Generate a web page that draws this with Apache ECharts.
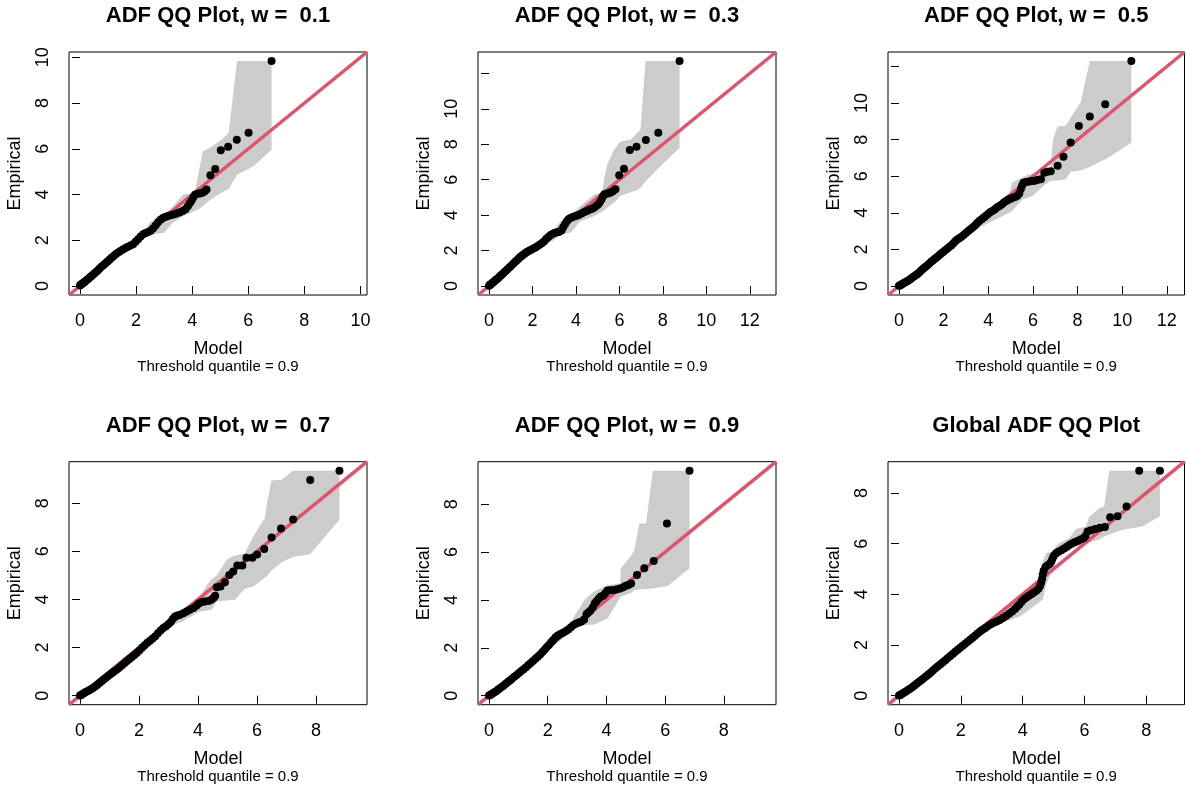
<!DOCTYPE html>
<html>
<head>
<meta charset="utf-8">
<script src="https://cdn.jsdelivr.net/npm/echarts@6/dist/echarts.min.js"></script>
<style>
html, body { margin: 0; padding: 0; background: #ffffff; }
#chart { width: 1186px; height: 792px; }
</style>
</head>
<body>
<div id="chart"></div>
<script>
// ---- Panel titles ----
const titles = [
  'ADF QQ Plot, w =  0.1',
  'ADF QQ Plot, w =  0.3',
  'ADF QQ Plot, w =  0.5',
  'ADF QQ Plot, w =  0.7',
  'ADF QQ Plot, w =  0.9',
  'Global ADF QQ Plot'
];
const subtitle = 'Threshold quantile = 0.9';
const xName = 'Model';
const yName = 'Empirical';

// ---- Tick values ----
const ticks0to10 = [0, 2, 4, 6, 8, 10];
const ticks0to12 = [0, 2, 4, 6, 8, 10, 12];
const ticks0to8 = [0, 2, 4, 6, 8];

// ---- w = 0.1 ----
const model1 = [0.00,0.02,0.05,0.08,0.12,0.16,0.20,0.25,0.30,0.35,0.40,0.46,0.52,0.58,0.64,0.70,0.77,0.84,0.91,0.98,1.05,1.12,1.20,1.28,1.36,1.44,1.53,1.62,1.71,1.80,1.89,1.98,2.07,2.16,2.25,2.34,2.43,2.52,2.61,2.70,2.79,2.88,2.97,3.06,3.16,3.26,3.36,3.46,3.56,3.66,3.76,3.85,3.92,3.98,4.04,4.10,4.18,4.27,4.36,4.44,4.51,4.65,4.82,5.02,5.28,5.59,6.01,6.83];
const empirical1 = [0.02,0.06,0.08,0.10,0.14,0.18,0.22,0.27,0.32,0.38,0.43,0.49,0.56,0.62,0.69,0.77,0.85,0.92,0.99,1.07,1.15,1.24,1.31,1.40,1.47,1.53,1.60,1.66,1.72,1.77,1.83,1.93,2.05,2.16,2.26,2.32,2.36,2.42,2.53,2.66,2.80,2.91,2.98,3.03,3.07,3.10,3.14,3.18,3.23,3.28,3.36,3.50,3.63,3.74,3.88,3.99,4.03,4.05,4.08,4.13,4.22,4.84,5.12,5.94,6.09,6.40,6.70,9.84];
const bandX1 = [0, 1.0, 2.0, 2.3, 2.5, 2.8, 3.0, 3.3, 3.67, 4.0, 4.1, 4.2, 4.38, 4.62, 5.0, 5.3, 5.6, 6.2, 6.83];
const bandHi1 = [0.03, 1.04, 2.06, 2.42, 2.80, 3.00, 3.14, 3.45, 4.00, 4.03, 4.08, 4.80, 5.89, 6.03, 6.35, 6.70, 9.84, 9.84, 9.84];
const bandLo1 = [0.00, 0.96, 1.90, 2.18, 2.26, 2.30, 2.33, 2.75, 3.05, 3.22, 3.30, 3.34, 3.49, 3.75, 4.05, 4.24, 4.87, 5.25, 5.96];

// ---- w = 0.3 ----
const model2 = [0.00,0.03,0.07,0.11,0.16,0.21,0.27,0.33,0.40,0.47,0.54,0.61,0.69,0.77,0.85,0.93,1.01,1.10,1.19,1.28,1.37,1.46,1.55,1.64,1.74,1.84,1.94,2.04,2.14,2.24,2.34,2.44,2.54,2.64,2.74,2.84,2.94,3.04,3.14,3.24,3.34,3.42,3.50,3.58,3.66,3.75,3.85,3.95,4.06,4.17,4.28,4.39,4.50,4.61,4.72,4.83,4.93,5.03,5.11,5.18,5.24,5.31,5.40,5.50,5.60,5.70,5.82,5.99,6.21,6.48,6.79,7.22,7.79,8.77];
const empirical2 = [0.02,0.05,0.09,0.13,0.18,0.23,0.30,0.36,0.43,0.51,0.59,0.67,0.76,0.85,0.94,1.04,1.13,1.24,1.36,1.46,1.56,1.66,1.75,1.84,1.92,1.99,2.05,2.11,2.18,2.26,2.34,2.43,2.53,2.66,2.78,2.88,2.95,3.00,3.03,3.06,3.15,3.33,3.50,3.66,3.77,3.84,3.89,3.93,3.98,4.04,4.10,4.17,4.24,4.30,4.35,4.42,4.52,4.62,4.75,4.90,5.05,5.18,5.21,5.24,5.28,5.35,5.46,6.25,6.62,7.67,7.86,8.24,8.65,12.70];
const bandX2 = [0, 1.0, 2.0, 2.6, 3.0, 3.3, 3.75, 4.2, 4.83, 5.21, 5.29, 5.44, 5.75, 6.05, 6.51, 6.82, 6.97, 7.2, 8.0, 8.77];
const bandHi2 = [0.03, 1.06, 2.10, 2.75, 3.20, 3.66, 3.98, 4.50, 5.16, 5.25, 6.00, 6.85, 7.69, 8.16, 8.26, 8.63, 8.82, 12.70, 12.70, 12.70];
const bandLo2 = [0.00, 0.94, 1.88, 2.35, 2.60, 2.91, 3.00, 3.66, 3.94, 4.20, 4.25, 4.41, 4.69, 5.10, 5.29, 5.40, 5.55, 5.90, 6.90, 7.79];

// ---- w = 0.5 ----
const model3 = [0.00,0.04,0.08,0.13,0.18,0.24,0.30,0.36,0.42,0.49,0.56,0.63,0.70,0.78,0.86,0.94,1.02,1.10,1.18,1.26,1.35,1.44,1.53,1.62,1.71,1.80,1.89,1.98,2.07,2.16,2.25,2.34,2.43,2.52,2.61,2.70,2.80,2.90,3.00,3.10,3.20,3.30,3.40,3.50,3.60,3.70,3.80,3.90,4.00,4.10,4.20,4.30,4.40,4.50,4.60,4.70,4.80,4.90,5.00,5.10,5.20,5.30,5.39,5.46,5.52,5.58,5.68,5.78,5.88,5.98,6.08,6.20,6.36,6.51,6.65,6.80,7.11,7.37,7.69,8.06,8.55,9.24,10.41];
const empirical3 = [0.01,0.03,0.06,0.10,0.14,0.18,0.22,0.26,0.30,0.36,0.43,0.49,0.55,0.61,0.68,0.78,0.88,0.97,1.04,1.12,1.22,1.32,1.41,1.50,1.58,1.68,1.77,1.86,1.95,2.04,2.13,2.22,2.32,2.44,2.54,2.61,2.69,2.79,2.90,3.01,3.10,3.20,3.31,3.44,3.55,3.65,3.74,3.84,3.95,4.04,4.12,4.20,4.30,4.38,4.46,4.56,4.64,4.71,4.77,4.82,4.87,4.93,5.05,5.30,5.50,5.64,5.68,5.70,5.72,5.74,5.76,5.80,5.84,6.19,6.24,6.27,6.57,7.06,7.85,8.74,9.27,9.93,12.30];
const bandX3 = [0, 1.0, 2.0, 3.0, 3.76, 4.35, 4.95, 5.07, 5.54, 5.84, 5.99, 6.5, 6.76, 6.9, 7.1, 7.47, 7.69, 8.06, 8.14, 8.55, 9.4, 10.41];
const bandHi3 = [0.02, 1.02, 2.05, 3.08, 3.90, 4.45, 5.10, 5.66, 5.95, 6.11, 6.13, 6.17, 6.20, 8.00, 8.72, 8.76, 9.20, 9.90, 10.04, 12.30, 12.30, 12.30];
const bandLo3 = [0.00, 0.92, 1.85, 2.75, 3.30, 3.65, 4.01, 4.10, 4.74, 4.85, 4.93, 5.50, 5.72, 5.75, 5.76, 5.84, 6.24, 6.30, 6.32, 6.50, 7.03, 7.85];

// ---- w = 0.7 ----
const model4 = [0.00,0.04,0.09,0.14,0.19,0.25,0.31,0.37,0.44,0.51,0.58,0.65,0.72,0.79,0.87,0.95,1.03,1.11,1.19,1.27,1.35,1.43,1.51,1.59,1.67,1.75,1.83,1.92,2.01,2.10,2.19,2.28,2.37,2.46,2.55,2.64,2.73,2.82,2.91,3.00,3.08,3.15,3.22,3.30,3.39,3.50,3.61,3.72,3.84,3.94,4.03,4.13,4.23,4.35,4.45,4.53,4.58,4.63,4.76,4.91,5.06,5.19,5.33,5.50,5.64,5.84,6.00,6.24,6.49,6.81,7.22,7.80,8.79];
const empirical4 = [0.01,0.03,0.07,0.11,0.15,0.19,0.23,0.27,0.32,0.38,0.44,0.52,0.59,0.66,0.74,0.82,0.89,0.96,1.04,1.11,1.19,1.28,1.36,1.44,1.52,1.60,1.68,1.77,1.88,1.99,2.10,2.20,2.28,2.38,2.47,2.59,2.71,2.81,2.89,2.98,3.07,3.20,3.29,3.33,3.36,3.43,3.50,3.57,3.64,3.74,3.83,3.89,3.91,3.94,3.99,4.07,4.15,4.51,4.54,4.71,5.02,5.16,5.41,5.41,5.73,5.73,5.87,6.10,6.57,6.95,7.32,8.96,9.35];
const bandX4 = [0, 1.0, 2.0, 2.8, 3.16, 3.27, 3.5, 3.61, 4.06, 4.35, 4.46, 4.63, 4.68, 4.97, 5.19, 5.25, 5.59, 5.64, 5.87, 6.26, 6.32, 6.49, 6.83, 7.22, 7.79, 8.79];
const bandHi4 = [0.02, 1.03, 2.05, 2.88, 3.30, 3.43, 3.60, 3.71, 4.12, 4.68, 4.85, 5.00, 5.09, 5.65, 5.79, 5.82, 5.92, 6.05, 6.62, 7.38, 7.90, 8.94, 8.97, 9.35, 9.35, 9.35];
const bandLo4 = [0.00, 0.95, 1.90, 2.62, 2.95, 3.00, 3.09, 3.20, 3.50, 3.55, 3.57, 3.92, 3.93, 3.96, 3.98, 3.99, 4.45, 4.47, 4.54, 4.90, 4.96, 5.20, 5.55, 5.76, 5.88, 7.31];

// ---- w = 0.9 ----
const model5 = [0.00,0.04,0.08,0.13,0.18,0.24,0.30,0.36,0.43,0.50,0.57,0.64,0.71,0.78,0.86,0.94,1.02,1.10,1.18,1.26,1.34,1.42,1.50,1.58,1.66,1.74,1.82,1.90,1.97,2.04,2.11,2.18,2.26,2.34,2.43,2.52,2.61,2.70,2.79,2.88,2.97,3.06,3.15,3.24,3.32,3.38,3.45,3.53,3.60,3.66,3.74,3.81,3.89,3.96,4.04,4.14,4.25,4.36,4.47,4.57,4.66,4.75,4.84,5.04,5.29,5.61,6.06,6.83];
const empirical5 = [0.01,0.03,0.06,0.10,0.14,0.19,0.25,0.30,0.36,0.43,0.50,0.57,0.64,0.71,0.79,0.87,0.95,1.03,1.11,1.19,1.28,1.37,1.45,1.54,1.63,1.72,1.83,1.93,2.03,2.12,2.22,2.32,2.43,2.52,2.58,2.63,2.69,2.77,2.86,2.95,3.02,3.06,3.10,3.18,3.40,3.48,3.55,3.68,3.85,3.95,4.06,4.14,4.18,4.28,4.39,4.41,4.42,4.45,4.48,4.53,4.59,4.63,4.69,5.04,5.32,5.63,7.19,9.40];
const bandX5 = [0, 1.0, 2.0, 2.67, 2.96, 3.13, 3.24, 3.58, 4.04, 4.47, 4.49, 4.86, 4.95, 5.12, 5.35, 5.58, 5.63, 6.09, 6.83];
const bandHi5 = [0.02, 1.04, 2.08, 2.78, 3.44, 3.75, 4.00, 4.35, 4.63, 4.69, 5.32, 5.88, 6.10, 7.19, 7.19, 9.40, 9.40, 9.40, 9.40];
const bandLo5 = [0.00, 0.95, 1.90, 2.60, 2.90, 2.96, 2.96, 2.96, 3.24, 4.10, 4.14, 4.30, 4.42, 4.44, 4.46, 4.48, 4.49, 4.58, 5.32];

// ---- Global ----
const model6 = [0.00,0.04,0.08,0.13,0.18,0.24,0.30,0.36,0.43,0.50,0.57,0.64,0.71,0.78,0.86,0.94,1.02,1.10,1.18,1.26,1.34,1.42,1.50,1.58,1.66,1.74,1.82,1.90,1.98,2.06,2.14,2.22,2.30,2.38,2.46,2.54,2.62,2.70,2.79,2.88,2.97,3.06,3.16,3.26,3.36,3.46,3.56,3.66,3.75,3.83,3.90,3.97,4.04,4.12,4.20,4.28,4.36,4.44,4.51,4.56,4.60,4.63,4.65,4.68,4.74,4.81,4.88,4.93,4.97,5.01,5.08,5.16,5.25,5.34,5.43,5.52,5.61,5.70,5.79,5.89,5.98,6.03,6.10,6.21,6.35,6.50,6.66,6.83,7.07,7.36,7.77,8.44];
const empirical6 = [0.01,0.03,0.06,0.10,0.14,0.18,0.23,0.27,0.33,0.40,0.47,0.54,0.60,0.67,0.75,0.83,0.91,0.99,1.08,1.16,1.24,1.32,1.40,1.49,1.57,1.65,1.73,1.81,1.89,1.97,2.05,2.13,2.21,2.29,2.37,2.45,2.53,2.60,2.67,2.75,2.82,2.88,2.93,2.99,3.07,3.15,3.23,3.32,3.42,3.52,3.61,3.72,3.81,3.88,3.94,4.00,4.07,4.14,4.22,4.33,4.47,4.62,4.78,4.93,5.08,5.15,5.21,5.30,5.42,5.52,5.62,5.68,5.74,5.81,5.88,5.96,6.02,6.07,6.12,6.17,6.22,6.30,6.48,6.53,6.58,6.63,6.66,7.04,7.08,7.47,8.88,8.88];
const bandX6 = [0, 1.0, 2.0, 3.0, 3.5, 3.9, 4.22, 4.44, 4.6, 4.65, 4.76, 4.97, 5.08, 5.19, 5.51, 5.72, 6.05, 6.15, 6.48, 6.64, 6.8, 7.23, 7.87, 8.44];
const bandHi6 = [0.02, 1.02, 2.04, 3.06, 3.58, 3.98, 4.30, 4.45, 4.97, 5.30, 5.63, 5.70, 5.90, 6.03, 6.22, 6.58, 6.68, 7.05, 7.40, 7.47, 8.88, 8.88, 8.88, 8.88];
const bandLo6 = [0.00, 0.95, 1.90, 2.75, 2.95, 3.13, 3.39, 3.60, 3.75, 3.79, 4.38, 5.00, 5.45, 5.55, 5.75, 5.90, 6.00, 6.05, 6.16, 6.28, 6.36, 6.55, 6.68, 7.08];

const panels = [
  { title: titles[0], model: model1, emp: empirical1, bx: bandX1, lo: bandLo1, hi: bandHi1, xTicks: ticks0to10, xLabels: ticks0to10, yTicks: ticks0to10, yLabels: ticks0to10 },
  { title: titles[1], model: model2, emp: empirical2, bx: bandX2, lo: bandLo2, hi: bandHi2, xTicks: ticks0to12, xLabels: ticks0to12, yTicks: ticks0to12, yLabels: ticks0to10 },
  { title: titles[2], model: model3, emp: empirical3, bx: bandX3, lo: bandLo3, hi: bandHi3, xTicks: ticks0to12, xLabels: ticks0to12, yTicks: ticks0to12, yLabels: ticks0to10 },
  { title: titles[3], model: model4, emp: empirical4, bx: bandX4, lo: bandLo4, hi: bandHi4, xTicks: ticks0to8, xLabels: ticks0to8, yTicks: ticks0to8, yLabels: ticks0to8 },
  { title: titles[4], model: model5, emp: empirical5, bx: bandX5, lo: bandLo5, hi: bandHi5, xTicks: ticks0to8, xLabels: ticks0to8, yTicks: ticks0to8, yLabels: ticks0to8 },
  { title: titles[5], model: model6, emp: empirical6, bx: bandX6, lo: bandLo6, hi: bandHi6, xTicks: ticks0to8, xLabels: ticks0to8, yTicks: ticks0to8, yLabels: ticks0to8 }
];

// ---- Layout: plot boxes in pixels ----
const colLeft = [69, 478, 888];
const colWidth = [298, 298, 296.5];
const rowTop = [52, 461.7];
const boxHeight = 243;

const FONT = '"Liberation Sans", Arial, Helvetica, sans-serif';
const RED = '#DF536B';
const BAND = '#CCCCCC';

const grid = [], xAxis = [], yAxis = [], series = [], title = [];

panels.forEach(function (p, i) {
  const col = i % 3, row = Math.floor(i / 3);
  const left = colLeft[col], top = rowTop[row], width = colWidth[col];
  // symmetric limits, padded 4% on each side
  const L = Math.max(Math.max.apply(null, p.emp), Math.max.apply(null, p.hi), Math.max.apply(null, p.model));
  const lo = -0.04 * L, hi = 1.04 * L;

  grid.push({ left: left, top: top, width: width, height: boxHeight, show: true,
    borderColor: '#000', borderWidth: 1, backgroundColor: 'transparent', containLabel: false });

  xAxis.push({
    type: 'value', gridIndex: i, min: lo, max: hi,
    axisLine: { show: false }, splitLine: { show: false },
    axisTick: { show: true, inside: false, length: 8, lineStyle: { color: '#000', width: 1 }, customValues: p.xTicks },
    axisLabel: { show: true, customValues: p.xLabels, margin: 17, color: '#000', fontSize: 18, fontFamily: FONT },
    name: xName, nameLocation: 'middle', nameGap: 45,
    nameTextStyle: { color: '#000', fontSize: 18, fontFamily: FONT }
  });
  yAxis.push({
    type: 'value', gridIndex: i, min: lo, max: hi,
    axisLine: { show: false }, splitLine: { show: false },
    axisTick: { show: true, inside: false, length: 8, lineStyle: { color: '#000', width: 1 }, customValues: p.yTicks },
    axisLabel: { show: true, customValues: p.yLabels, rotate: 90, margin: 17, color: '#000', fontSize: 18, fontFamily: FONT },
    name: yName, nameLocation: 'middle', nameGap: 45, nameRotate: 90,
    nameTextStyle: { color: '#000', fontSize: 18, fontFamily: FONT }
  });

  // confidence band polygon
  series.push({
    type: 'custom', xAxisIndex: i, yAxisIndex: i, silent: true, z: 1,
    data: p.bx.map(function (x, k) { return [x, p.lo[k], p.hi[k]]; }),
    encode: { x: 0, y: [1, 2] },
    renderItem: function (params, api) {
      if (params.dataIndex !== 0) return { type: 'group', children: [] };
      const upper = p.bx.map(function (x, k) { return api.coord([x, p.hi[k]]); });
      const lower = p.bx.map(function (x, k) { return api.coord([x, p.lo[k]]); }).reverse();
      return { type: 'polygon', shape: { points: upper.concat(lower) }, style: { fill: BAND, stroke: null } };
    }
  });
  // y = x reference line across the panel
  series.push({
    type: 'line', xAxisIndex: i, yAxisIndex: i, silent: true, z: 2,
    data: [[lo, lo], [hi, hi]], symbol: 'none', clip: true,
    lineStyle: { color: RED, width: 3.5 }
  });
  // quantile pairs
  series.push({
    type: 'scatter', xAxisIndex: i, yAxisIndex: i, silent: true, z: 3,
    data: p.model.map(function (m, k) { return [m, p.emp[k]]; }),
    symbol: 'circle', symbolSize: 8, itemStyle: { color: '#000', opacity: 1 }
  });

  const cx = left + width / 2;
  title.push({ text: p.title, left: cx, top: top - 47, textAlign: 'center', padding: 0,
    textStyle: { fontSize: 22, fontWeight: 'bold', color: '#000', fontFamily: FONT } });
  title.push({ text: subtitle, left: cx, top: top + 307.5, textAlign: 'center', padding: 0,
    textStyle: { fontSize: 15, fontWeight: 'normal', color: '#000', fontFamily: FONT } });
});

const chart = echarts.init(document.getElementById('chart'), null, { renderer: 'canvas' });
chart.setOption({
  backgroundColor: '#ffffff',
  animation: false,
  tooltip: { show: false },
  title: title,
  grid: grid,
  xAxis: xAxis,
  yAxis: yAxis,
  series: series
});
</script>
</body>
</html>
